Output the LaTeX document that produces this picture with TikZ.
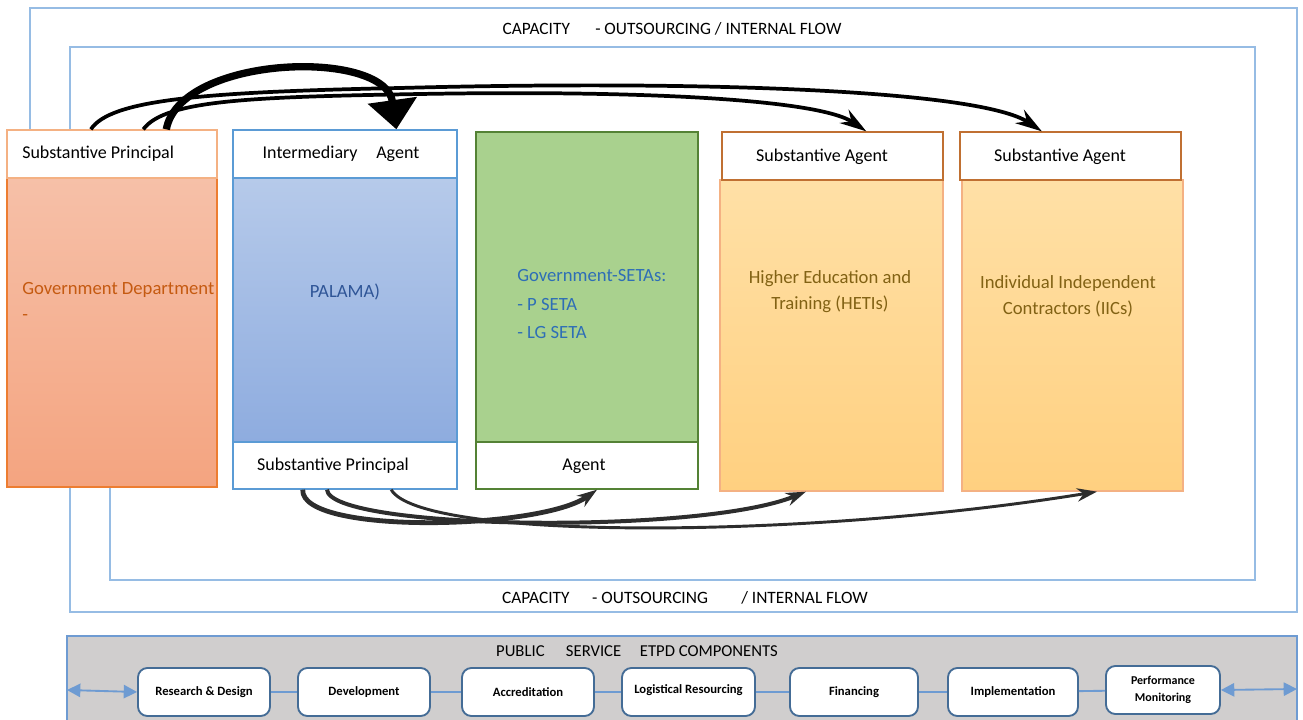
\documentclass[tikz,border=0pt]{standalone}
\usepackage{fontspec}
\setmainfont{Carlito}
\usetikzlibrary{fit,arrows.meta,calc}
\definecolor{frameblue}{RGB}{150,188,228}
\definecolor{orgB}{RGB}{237,125,49}
\definecolor{orgL}{RGB}{244,177,131}
\definecolor{orgT}{RGB}{197,90,17}
\definecolor{bluB}{RGB}{91,155,213}
\definecolor{bluT}{RGB}{47,85,151}
\definecolor{grnB}{RGB}{84,130,53}
\definecolor{grnF}{RGB}{169,209,142}
\definecolor{setaT}{RGB}{46,110,182}
\definecolor{yelH}{RGB}{192,112,50}
\definecolor{yelT}{RGB}{130,98,20}
\definecolor{barF}{RGB}{208,206,206}
\definecolor{barB}{RGB}{110,155,210}
\definecolor{compB}{RGB}{68,108,150}
\definecolor{arrG}{RGB}{45,45,45}
\begin{document}
\begin{tikzpicture}[x=0.75pt,y=-0.75pt,
  frame/.style={draw=frameblue, line width=1.5pt},
  boxn/.style={inner sep=0pt, line width=1pt},
  txt/.style={inner sep=0pt, font=\fontsize{13.5}{16}\selectfont, text=black},
  body/.style={inner sep=0pt, font=\fontsize{14}{19.5}\selectfont, align=center},
  comp/.style={draw=compB, line width=1.4pt, rounded corners=7pt, fill=white, inner sep=0pt},
  ctxt/.style={inner sep=0pt, font=\fontsize{9.5}{13}\selectfont\bfseries, align=center},
  compline/.style={draw=barB, line width=1.4pt},
  toparrow/.style={draw=black, line width=2.8pt, -{Stealth[length=20pt,width=12pt]}},
  botarrow/.style={draw=arrG, -{Stealth[length=15pt,width=10pt]}},
  title/.style={inner sep=0pt, font=\fontsize{13}{15}\selectfont}
]
\useasboundingbox (0,0) rectangle (1303,720);
\fill[white] (0,0) rectangle (1303,720);

% frames
\draw[frame] (30,8) -- (1297,8) -- (1297,612) -- (70,612) -- (70,300) -- (30,300) -- cycle;
\draw[frame] (70,47) -- (1255,47) -- (1255,580) -- (110,580) -- (110,300) -- (70,300) -- cycle;
\node[title] (ttop) at (672,29) {CAPACITY\hspace{19pt}- OUTSOURCING / INTERNAL FLOW};
\node[title] (tbot) at (685,598) {CAPACITY\hspace{17pt}- OUTSOURCING\hspace{25pt}/ INTERNAL FLOW};

% box 1: government department
\node[boxn, fit={(7,178) (217,487)}, draw=orgB, top color={rgb,255:red,246;green,192;blue,168}, bottom color={rgb,255:red,244;green,164;blue,128}] (ob) {};
\node[boxn, fit={(7,130) (217,178)}, draw=orgL, fill=white] (oh) {};
\node[txt, anchor=west] (toh) at (22,154) {Substantive Principal};
\node[body, align=left, anchor=north west, text=orgT] (tob) at (22,282) {Government Department\\-};

% box 2: PALAMA
\node[boxn, fit={(233,178) (457,442)}, draw=bluB, top color={rgb,255:red,182;green,202;blue,234}, bottom color={rgb,255:red,142;green,172;blue,223}] (bb) {};
\node[boxn, fit={(233,130) (457,178)}, draw=bluB, fill=white] (bh) {};
\node[boxn, fit={(233,442) (457,489)}, draw=bluB, fill=white] (bf) {};
\node[txt] (tbh) at (341,154) {Intermediary\hspace{14pt}Agent};
\node[body, text=bluT] (tbb) at (345,292) {PALAMA)};
\node[txt] (tbf) at (333,466) {Substantive Principal};

% box 3: SETAs
\node[boxn, fit={(476,132) (698,442)}, draw=grnB, fill=grnF] (gb) {};
\node[boxn, fit={(476,442) (698,489)}, draw=grnB, fill=white] (gf) {};
\node[body, align=left, anchor=north west, text=setaT, font=\fontsize{14}{21.5}\selectfont] (tgb) at (517,269) {Government-SETAs:\\- P SETA\\- LG SETA};
\node[txt] (tgf) at (584,466) {Agent};

% box 4: HETIs
\node[boxn, fit={(720,180) (943,491)}, draw=orgL, top color={rgb,255:red,255;green,224;blue,166}, bottom color={rgb,255:red,255;green,208;blue,128}] (hb) {};
\node[boxn, fit={(722,132) (943,180)}, draw=yelH, fill=white] (hh) {};
\node[txt] (thh) at (822,157) {Substantive Agent};
\node[body, text=yelT] (thb) at (830,292) {Higher Education and\\Training (HETIs)};

% box 5: IICs
\node[boxn, fit={(962,180) (1183,491)}, draw=orgL, top color={rgb,255:red,255;green,224;blue,166}, bottom color={rgb,255:red,255;green,208;blue,128}] (ib) {};
\node[boxn, fit={(960,132) (1181,180)}, draw=yelH, fill=white] (ih) {};
\node[txt] (tih) at (1060,157) {Substantive Agent};
\node[body, text=yelT] (tib) at (1068,296) {Individual Independent\\Contractors (IICs)};

% top arrows
\draw[toparrow]
  ($(oh.north west)!0.4!(oh.north east)$) .. controls (110,100) and (200,92) .. (400,88) .. controls (700,80) and (980,90) .. ($(ih.north west)!0.371!(ih.north east)$);
\draw[toparrow]
  ($(oh.north west)!0.648!(oh.north east)$) .. controls (165,100) and (250,97) .. (420,94) .. controls (650,90) and (820,100) .. ($(hh.north west)!0.652!(hh.north east)$);
\draw[draw=black, line width=5.5pt, -{Triangle[length=22pt,width=36pt]}]
  ($(oh.north west)!0.757!(oh.north east)$) .. controls (180,55) and (385,48) .. ($(bh.north west)!0.728!(bh.north east)$);

% bottom arrows
\draw[botarrow, line width=3.6pt]
  ($(bf.south west)!0.3125!(bf.south east)$) .. controls (300,535) and (540,530) .. ($(gf.south west)!0.545!(gf.south east)$);
\draw[botarrow, line width=3pt]
  ($(bf.south west)!0.42!(bf.south east)$) .. controls (330,530) and (700,535) .. ($(hb.south west)!0.386!(hb.south east)$);
\draw[botarrow, line width=2.2pt]
  ($(bf.south west)!0.705!(bf.south east)$) .. controls (420,540) and (800,540) .. ($(ib.south west)!0.61!(ib.south east)$);

% bottom bar
\node[fit={(67,636) (1297,730)}, inner sep=0pt, draw=barB, line width=1pt, fill=barF] (bar) {};
\node[title, font=\fontsize{12.5}{15}\selectfont] (tbar) at (637,651) {PUBLIC\hspace{16pt}SERVICE\hspace{14pt}ETPD COMPONENTS};

\node[comp, fit={(138,668) (270,716)}] (c1) {};
\node[comp, fit={(298,668) (430,716)}] (c2) {};
\node[comp, fit={(462,668) (594,716)}] (c3) {};
\node[comp, fit={(622,668) (755,716)}] (c4) {};
\node[comp, fit={(790,668) (918,716)}] (c5) {};
\node[comp, fit={(948,668) (1078,716)}] (c6) {};
\node[comp, fit={(1106,666) (1220,714)}] (c7) {};
\node[ctxt] at (c1.center) {Research \& Design};
\node[ctxt] at (c2.center) {Development};
\node[ctxt] at (c3.center) {Accreditation};
\node[ctxt] at ([yshift=1.5pt]c4.center) {Logistical Resourcing};
\node[ctxt] at (c5.center) {Financing};
\node[ctxt] at (c6.center) {Implementation};
\node[ctxt, font=\fontsize{9}{13}\selectfont\bfseries] at (c7.center) {Performance\\Monitoring};

\draw[compline] (c1) -- (c2);
\draw[compline] (c2) -- (c3);
\draw[compline] (c3) -- (c4);
\draw[compline] (c4) -- (c5);
\draw[compline] (c5) -- (c6);
\draw[compline] (c6) -- (c7);
\coordinate (barL) at (67,690);
\coordinate (barR) at (1297,689);
\draw[compline, {Triangle[length=10pt,width=10pt]}-{Triangle[length=10pt,width=10pt]}] (barL) -- (c1.west);
\draw[compline, {Triangle[length=10pt,width=10pt]}-{Triangle[length=10pt,width=10pt]}] (c7.east) -- (barR);
\end{tikzpicture}
\end{document}
